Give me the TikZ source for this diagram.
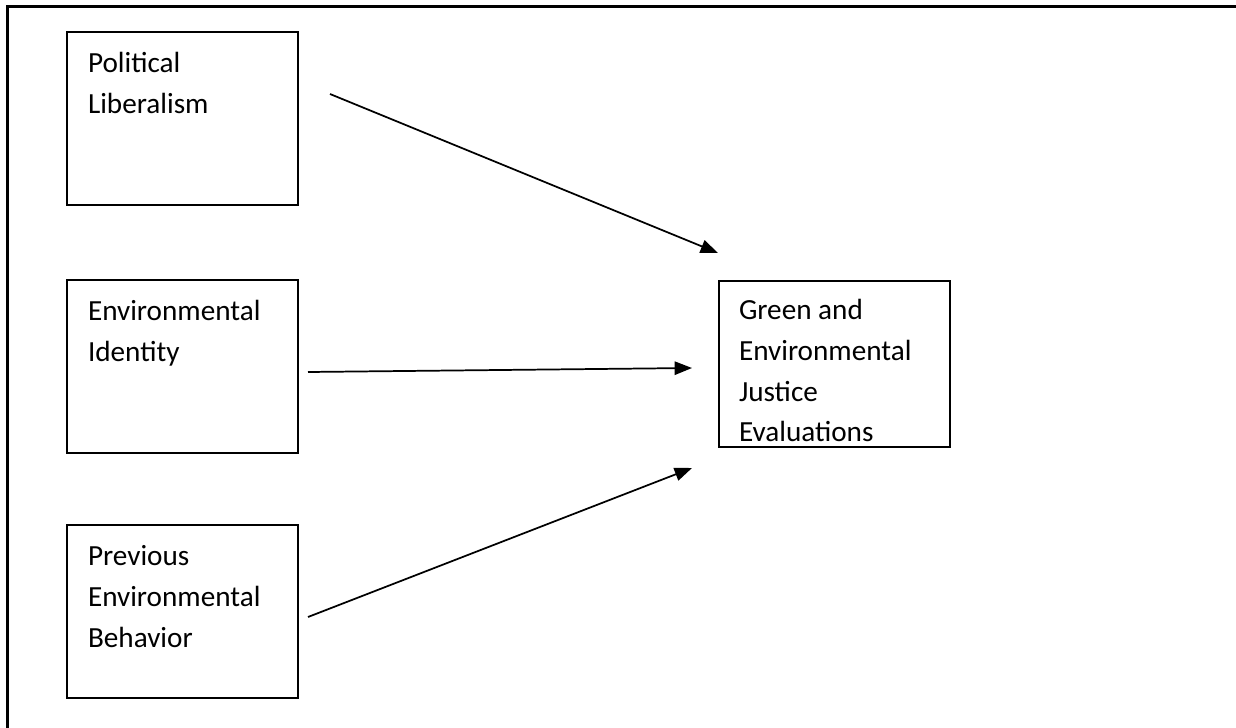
\documentclass[tikz,border=0pt]{standalone}
\usepackage{fontspec}
\setmainfont{Carlito}
\usetikzlibrary{positioning,arrows.meta}
\newcommand{\boxtext}[2]{\parbox[c][#1][t]{141.75pt}{\strut #2}}

\begin{document}
\begin{tikzpicture}[
    x=0.75pt, y=-0.75pt,
    factor/.style={rectangle, draw=black, line width=1.5pt, anchor=north west, inner xsep=15.75pt, inner ysep=8.5pt, font=\fontsize{21.9pt}{30.75pt}\selectfont},
    link/.style={line width=1.3pt, -{Triangle[length=13pt,width=10pt]}}
]
\useasboundingbox (0,0) rectangle (1236,728);

% Frame
\draw[line width=2.25pt] (7,740) -- (7,6) -- (1250,6);

% Predictors
\node[factor] (liberal) at (66,31) {\boxtext{112.75pt}{Political\\Liberalism}};
\node[factor] (identity) at (66,279) {\boxtext{112.75pt}{Environmental\\Identity}};
\node[factor] (behavior) at (66,524) {\boxtext{112.75pt}{Previous\\Environmental\\Behavior}};

% Outcome
\node[factor, inner xsep=15pt, inner ysep=7.95pt, font=\fontsize{21.9pt}{30.4pt}\selectfont] (evaluation) at (718,280) {\parbox[c][108.6pt][t]{143.25pt}{\strut Green and\\Environmental\\Justice\\Evaluations}};

% Paths
\coordinate (liberal out) at (330,94);
\coordinate (identity out) at (308,372);
\coordinate (behavior out) at (308,617);
\coordinate (liberal in) at (718,253);
\coordinate (identity in) at (692,368);
\coordinate (behavior in) at (692,468);

\draw[link] (liberal out) -- (liberal in);
\draw[link] (identity out) -- (identity in);
\draw[link] (behavior out) -- (behavior in);

\end{tikzpicture}
\end{document}
